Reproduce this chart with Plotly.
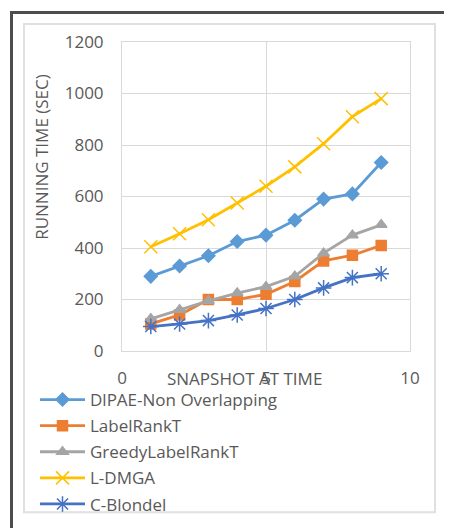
import plotly.graph_objects as go

x_vals = [1, 2, 3, 4, 5, 6, 7, 8, 9]
dlpae = [290, 330, 370, 425, 450, 508, 590, 610, 732]
labelrankt = [105, 140, 200, 200, 220, 270, 350, 372, 410]
greedy = [125, 160, 195, 225, 250, 290, 380, 450, 490]
ldmga = [405, 455, 510, 575, 640, 715, 805, 910, 980]
cblondel = [95, 105, 118, 140, 165, 200, 245, 285, 300]

series_names = ["DlPAE-Non Overlapping", "LabelRankT", "GreedyLabelRankT", "L-DMGA", "C-Blondel"]
series_vals = [dlpae, labelrankt, greedy, ldmga, cblondel]
colors = ["#5B9BD5", "#ED7D31", "#A5A5A5", "#FFC000", "#4472C4"]
symbols = ["diamond", "square", "triangle-up", "x-thin-open", "asterisk-open"]
sizes = [10, 10, 10, 13, 13]

y_ticks = [0, 200, 400, 600, 800, 1000, 1200]
x_ticks = [0, 5, 10]

OFF = 8  # page body margin
W, H = 452 - OFF, 528 - OFF
# plot area in page pixels
L, R, T, B = 122, 410, 42, 351.5

fig = go.Figure()
for i, (name, vals) in enumerate(zip(series_names, series_vals)):
    fig.add_trace(go.Scatter(
        x=x_vals, y=vals, name=name, mode="lines+markers",
        line=dict(color=colors[i], width=2.8),
        marker=dict(symbol=symbols[i], size=sizes[i], color=colors[i],
                    line=dict(color=colors[i], width=1.5)),
        legendgroup=name,
    ))

def px(X):
    return (X - L) / (R - L)

def py(Y):
    return (B - Y) / (B - T)

shapes = [
    dict(type="rect", xref="paper", yref="paper",
         x0=px(11.5), x1=px(470), y0=py(12.5), y1=py(540),
         line=dict(color="#4d4d4d", width=3), fillcolor="rgba(0,0,0,0)", layer="below"),
    dict(type="rect", xref="paper", yref="paper",
         x0=px(24), x1=px(435), y0=py(24), y1=py(513),
         line=dict(color="#e0e0e0", width=2), fillcolor="rgba(0,0,0,0)", layer="below"),
]

FS = 17
fig.update_layout(
    width=W, height=H,
    margin=dict(l=L - OFF, r=W - (R - OFF), t=T - OFF, b=H - (B - OFF), autoexpand=False),
    paper_bgcolor="white", plot_bgcolor="white",
    font=dict(family="Open Sans", size=FS, color="#595959"),
    showlegend=True,
    legend=dict(xref="container", yref="container", x=(35 - OFF) / W, y=1 - (382 - OFF) / H,
                xanchor="left", yanchor="top", tracegroupgap=1, itemwidth=45,
                font=dict(size=FS, color="#595959"), bgcolor="rgba(0,0,0,0)"),
    shapes=shapes,
    xaxis=dict(range=[0, 10], tickvals=x_ticks, ticktext=[str(v) for v in x_ticks],
               showgrid=True, gridcolor="#d9d9d9", gridwidth=1, zeroline=False,
               showline=True, linecolor="#d9d9d9", mirror=True,
               ticks="outside", ticklen=12, tickcolor="rgba(0,0,0,0)",
               tickfont=dict(size=FS, color="#595959")),
    yaxis=dict(range=[0, 1200], tickvals=y_ticks,
               showgrid=True, gridcolor="#d9d9d9", gridwidth=1, zeroline=False,
               showline=True, linecolor="#d9d9d9", mirror=True,
               ticks="outside", ticklen=14, tickcolor="rgba(0,0,0,0)",
               tickfont=dict(size=FS, color="#595959")),
    annotations=[
        dict(text="SNAPSHOT AT TIME", xref="paper", yref="paper",
             x=px(244), y=py(379), xanchor="center", yanchor="middle",
             showarrow=False, font=dict(size=FS, color="#595959")),
        dict(text="RUNNING TIME (SEC)", xref="paper", yref="paper",
             x=px(42), y=py(157), xanchor="center", yanchor="middle", textangle=-90,
             showarrow=False, font=dict(size=FS, color="#595959")),
    ],
)

fig.write_html("out.html")
